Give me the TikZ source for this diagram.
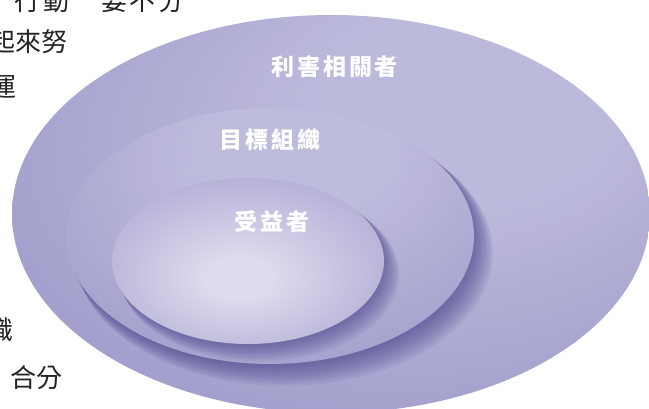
\documentclass[tikz,border=0pt]{standalone}
\usepackage{fontspec}
\usepackage{xcolor}
\newfontfamily\cjk{Noto Sans CJK TC}
\newfontfamily\cjklabel{Noto Sans CJK TC}[LetterSpace=12]

\definecolor{olight}{RGB}{188,186,219}
\definecolor{omid}{RGB}{161,158,204}
\definecolor{odark}{RGB}{140,135,190}
\definecolor{mlight}{RGB}{190,188,220}
\definecolor{mmid}{RGB}{161,158,204}
\definecolor{mdark}{RGB}{141,137,190}
\definecolor{ilight}{RGB}{221,219,237}
\definecolor{imid}{RGB}{174,171,212}
\definecolor{idark}{RGB}{146,142,194}
\definecolor{shadowcol}{RGB}{62,56,130}
\definecolor{pagetextcol}{RGB}{35,35,35}

\pgfdeclareradialshading{outershade}{\pgfpoint{14bp}{18bp}}{color(0bp)=(olight); color(12bp)=(olight); color(34bp)=(omid); color(50bp)=(odark)}
\pgfdeclareradialshading{middleshade}{\pgfpoint{4bp}{22bp}}{color(0bp)=(mlight); color(12bp)=(mlight); color(36bp)=(mmid); color(50bp)=(mdark)}
\pgfdeclareradialshading{innershade}{\pgfpoint{-2bp}{-6bp}}{color(0bp)=(ilight); color(6bp)=(ilight); color(32bp)=(imid); color(50bp)=(idark)}

\begin{document}
\begin{tikzpicture}[x=1pt,y=-1pt]
  \tikzset{
    tagtext/.style={text=white, font=\cjklabel\bfseries\fontsize{23}{26}\selectfont, inner sep=0pt},
    pageline/.style={text=pagetextcol, font=\cjk\fontsize{26}{30}\selectfont, anchor=east, inner sep=0pt}
  }
  \def\Ox{331}\def\Oy{214}\def\Orx{319}\def\Ory{199}
  \def\Mx{270}\def\My{236}\def\Mrx{204}\def\Mry{128}
  \def\Ix{248}\def\Iy{261}\def\Irx{136}\def\Iry{83}

  \useasboundingbox (0,0) rectangle (649,408);
  \clip (0,0) rectangle (649,408);

  % text of the page round the figure
  \node[pageline] (line1) at (185,1) {\addfontfeature{LetterSpace=11}行動　要不分};
  \node[pageline] (line2) at (68,42) {起來努};
  \node[pageline] (line3) at (17,87) {運};
  \node[pageline] (line4) at (14,330) {識};
  \node[pageline] (line5) at (63,378) {合分};

  % stakeholders
  \shade[shading=outershade] (\Ox,\Oy) ellipse [x radius=\Orx, y radius=\Ory];
  \begin{scope}
    \clip (\Ox,\Oy) ellipse [x radius=\Orx, y radius=\Ory];
    \foreach \s in {1,...,10}
      \fill[shadowcol, fill opacity=.075] (\Mx+\s*1.4,\My+\s*1.7) ellipse [x radius=\Mrx+\s*.5, y radius=\Mry+\s*.5];
  \end{scope}

  % target organisation
  \shade[shading=middleshade] (\Mx,\My) ellipse [x radius=\Mrx, y radius=\Mry];
  \begin{scope}
    \clip (\Mx,\My) ellipse [x radius=\Mrx, y radius=\Mry];
    \foreach \s in {1,...,9}
      \fill[shadowcol, fill opacity=.075] (\Ix+\s*1.3,\Iy+\s*1.5) ellipse [x radius=\Irx+\s*.4, y radius=\Iry+\s*.4];
  \end{scope}

  % beneficiaries
  \shade[shading=innershade] (\Ix,\Iy) ellipse [x radius=\Irx, y radius=\Iry];

  \node[tagtext] (stake) at (335,67) {利害相關者};
  \node[tagtext] (org) at (270,140) {目標組織};
  \node[tagtext] (bene) at (272,222) {受益者};
\end{tikzpicture}
\end{document}
